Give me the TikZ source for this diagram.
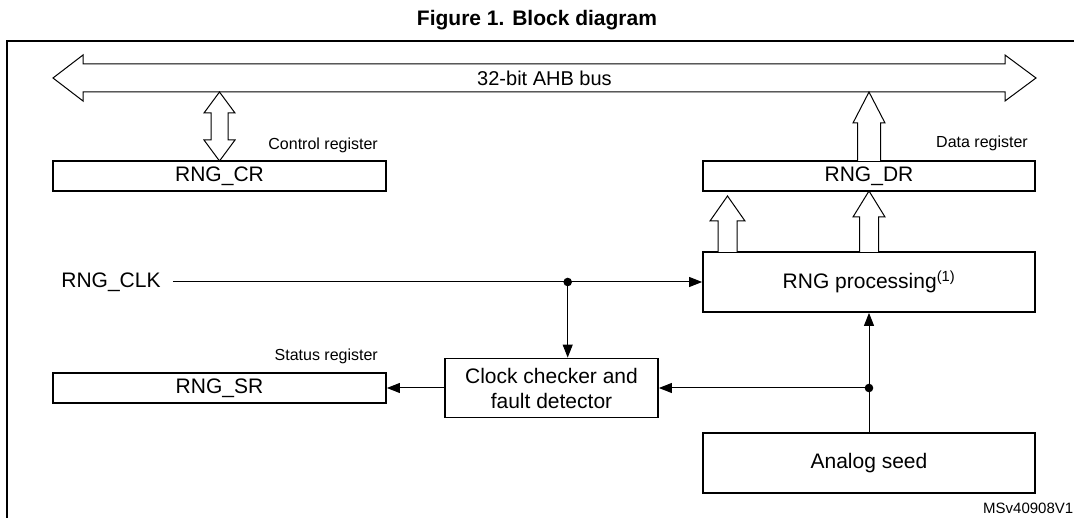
\documentclass[tikz,border=0pt]{standalone}
\usepackage{fontspec}
\setmainfont{Liberation Sans}
\usetikzlibrary{arrows.meta,calc}
\newcommand\HollowUp[6]{% x, ybase, ytip, shaft half, head half, head length
  \draw[hollow] (#1-#4,#2) -- (#1-#4,#3+#6) -- (#1-#5,#3+#6) -- (#1,#3) -- (#1+#5,#3+#6) -- (#1+#4,#3+#6) -- (#1+#4,#2);}
\begin{document}
\begin{tikzpicture}[x=1pt,y=-1pt,
  box/.style={draw,line width=1.8pt,inner sep=0pt,font=\fontsize{21}{25}\selectfont,align=center},
  lbl/.style={font=\fontsize{16}{19}\selectfont,inner sep=0pt},
  conn/.style={line width=1pt,-{Triangle[length=13pt,width=10pt]}},
  wire/.style={line width=1pt},
  hollow/.style={draw,line width=1pt,fill=white,line join=miter}]
\useasboundingbox (0,0) rectangle (1074,518);
\fill[white] (0,0) rectangle (1074,518);

% title and frame
\node[font=\fontsize{21}{25}\selectfont\bfseries] (title) at (537,20) {Figure 1. Block diagram};
\draw[line width=2pt] (7,520) -- (7,40.7) -- (1080,40.7);

% bus
\draw[hollow] (53,78) -- (83,55) -- (83,64) -- (1005,64) -- (1005,55) -- (1036,78) -- (1005,101) -- (1005,92) -- (83,92) -- (83,101) -- cycle;
\node[font=\fontsize{20}{24}\selectfont] (bus) at (544.5,78) {32-bit AHB bus};

% boxes
\node[box,minimum width=333pt,minimum height=30pt] (cr) at (219.5,176) {RNG\_CR};
\node[box,minimum width=332pt,minimum height=30pt] (dr) at (869,176) {RNG\_DR};
\node[box,minimum width=332pt,minimum height=60pt] (proc) at (869,282) {RNG processing\textsuperscript{(1)}};
\node[box,minimum width=333pt,minimum height=30pt] (sr) at (219.5,388) {RNG\_SR};
\node[box,minimum width=213pt,minimum height=59pt,font=\fontsize{21}{25}\selectfont] (cc) at (551.5,388) {Clock checker and\\fault detector};
\node[box,minimum width=332pt,minimum height=60pt] (seed) at (869,463) {Analog seed};

% labels
\node[lbl,anchor=east] (crl) at (378,145) {Control register};
\node[lbl,anchor=east] (drl) at (1028,143) {Data register};
\node[lbl,anchor=east] (srl) at (378,356) {Status register};
\node[font=\fontsize{15}{18}\selectfont,anchor=west,inner sep=0pt] (ref) at (983,508) {MSv40908V1};

% control double arrow
\draw[hollow] (219.5,92) -- (235,113) -- (228,113) -- (228,140) -- (235,140) -- (219.5,161) -- (204,140) -- (211,140) -- (211,113) -- (204,113) -- cycle;
% data arrows
\HollowUp{869}{161}{92}{11.5}{16}{31}
\HollowUp{727.5}{252}{196}{9.5}{17.5}{25}
\HollowUp{869}{252}{191}{9.5}{16}{26}

% clock
\node[font=\fontsize{21}{25}\selectfont,inner ysep=0pt,inner xsep=12pt] (clk) at (111,282) {RNG\_CLK};
\coordinate (j1) at (567.7,282);
\coordinate (j2) at (869,388);
\draw[conn] (clk.east) -- (proc.west);
\draw[conn] (j1) -- (j1 |- cc.north);
\fill (j1) circle (4.3pt);
\draw[wire] (seed.north) -- (j2);
\draw[conn] (j2) -- (proc.south);
\draw[conn] (j2) -- (j2 -| cc.east);
\fill (j2) circle (4.3pt);
\draw[conn] (cc.west) -- (sr.east);
\end{tikzpicture}
\end{document}
